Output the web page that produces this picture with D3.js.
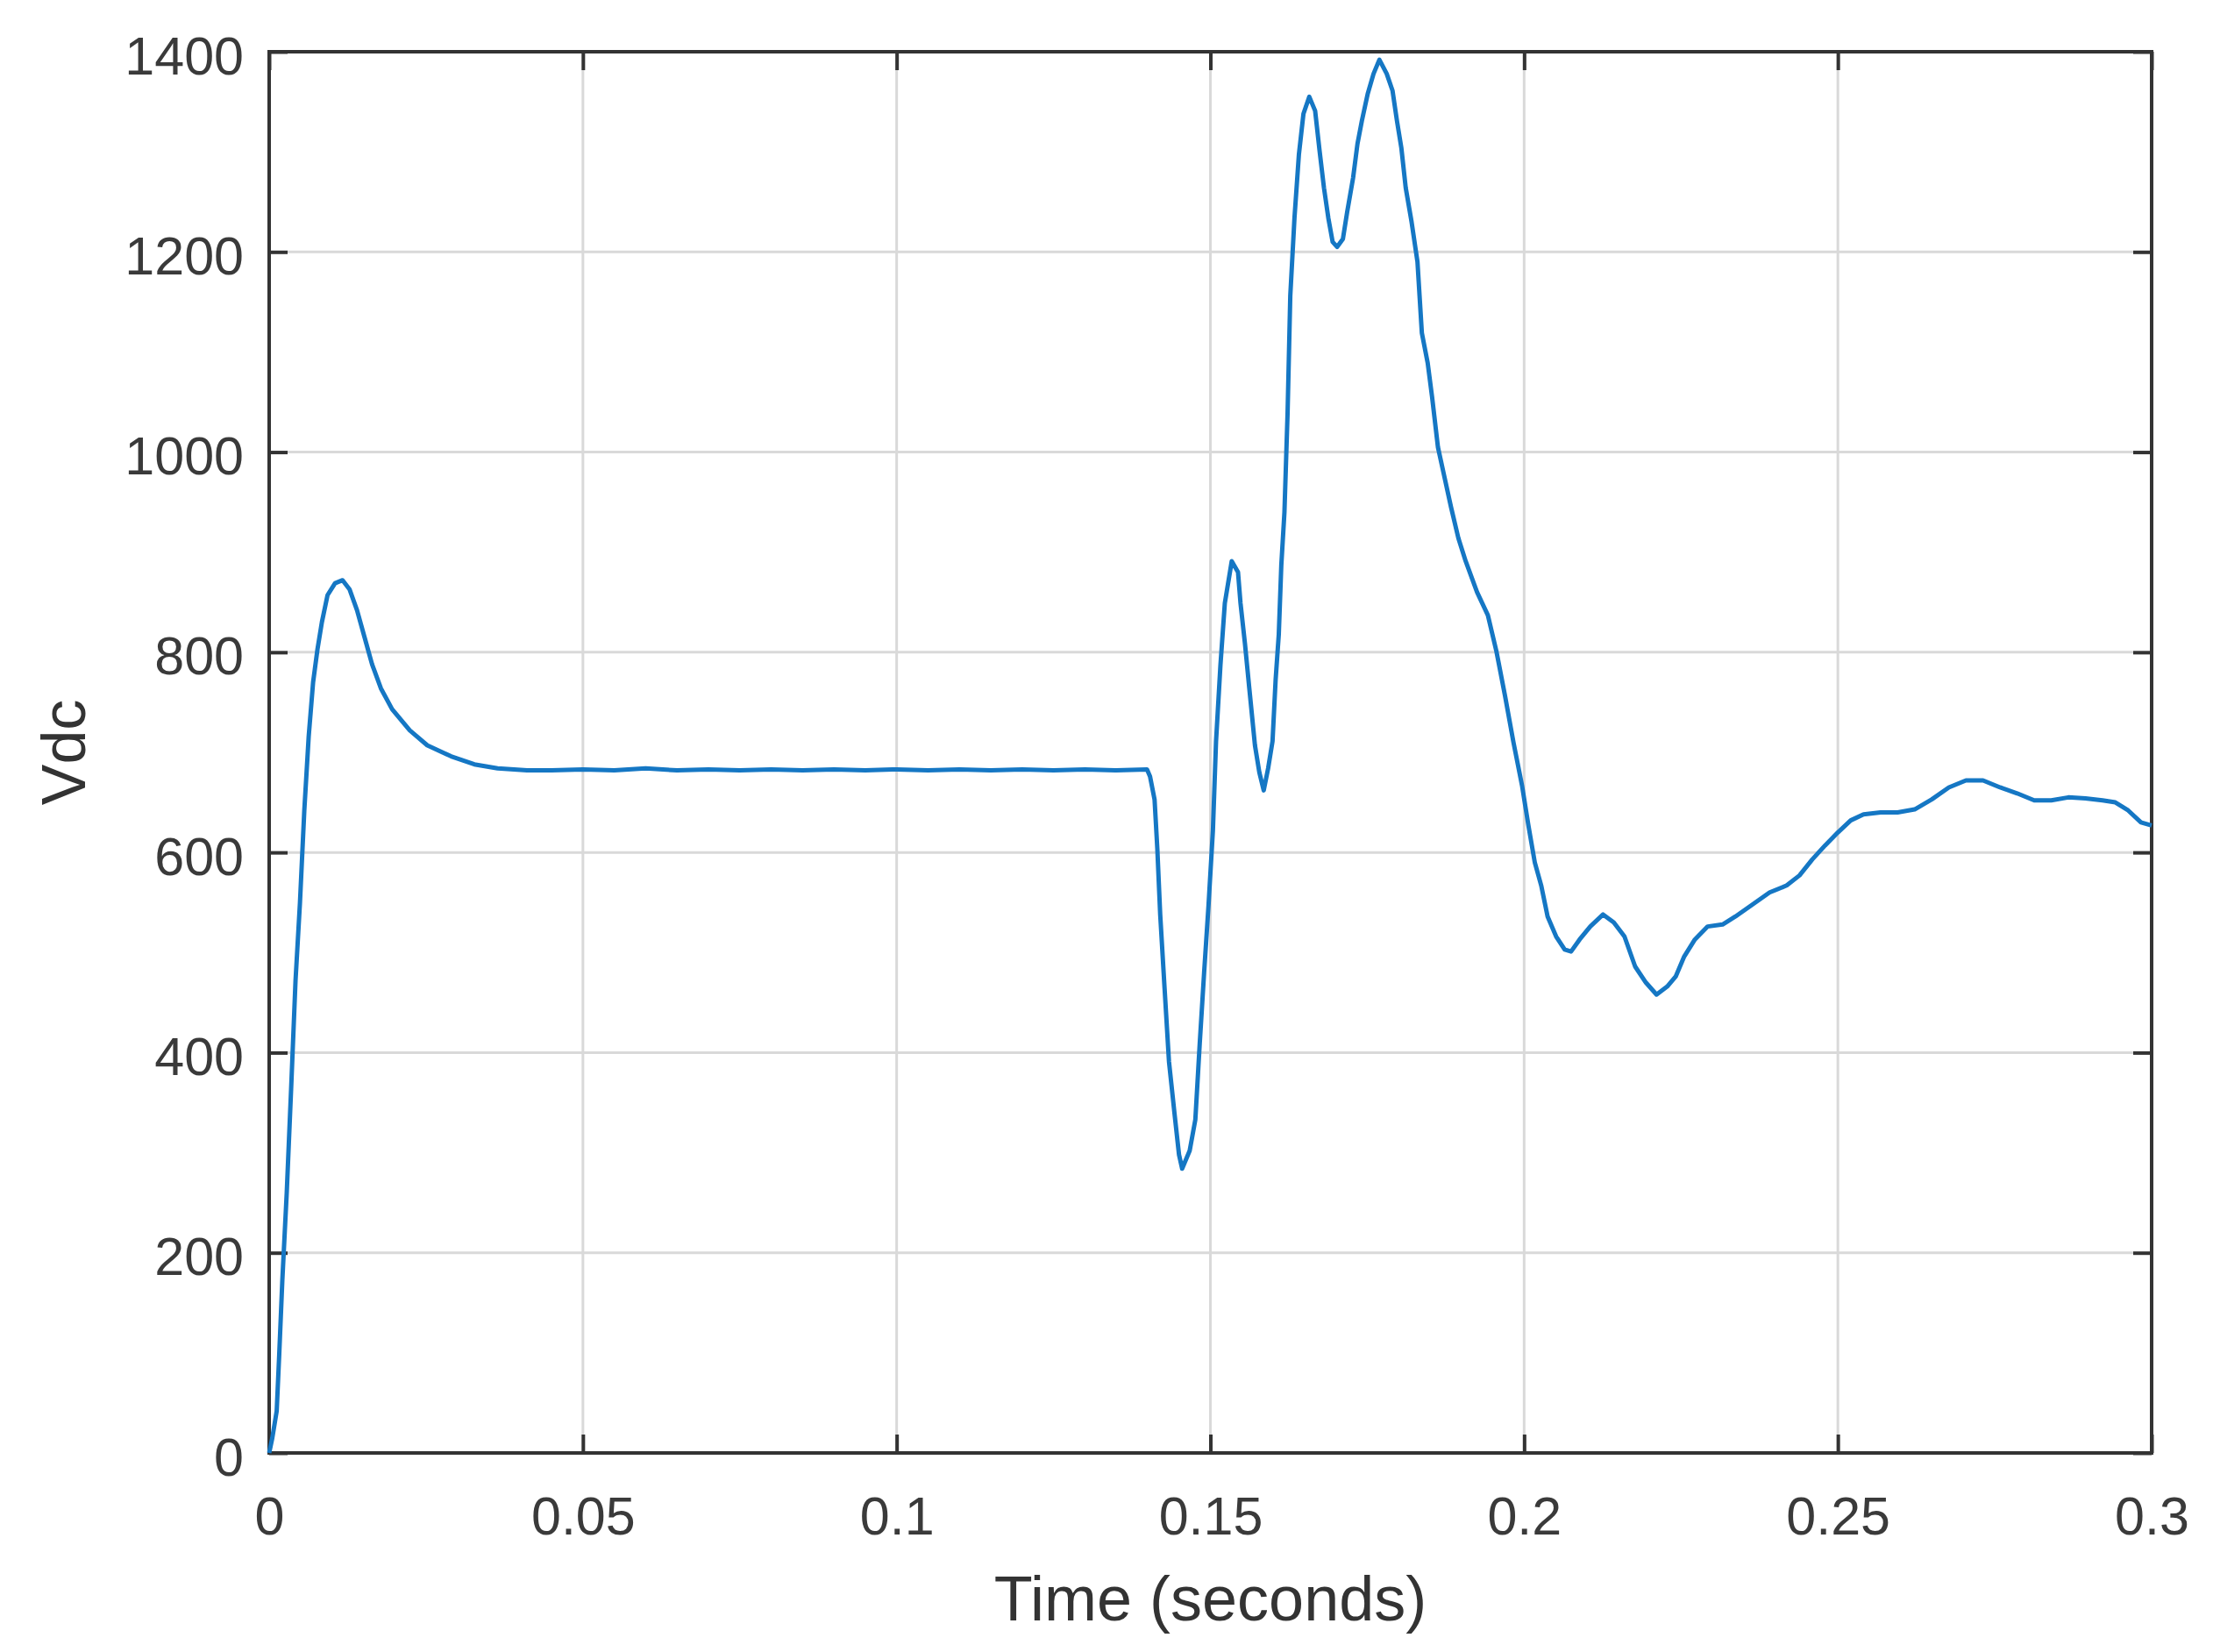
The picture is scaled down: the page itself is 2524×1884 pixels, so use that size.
<!DOCTYPE html>
<html>
<head>
<meta charset="utf-8">
<script src="https://cdn.jsdelivr.net/npm/d3@7"></script>
<style>
  html, body { margin: 0; padding: 0; background: #ffffff; }
  svg { display: block; }
  text { font-family: "Liberation Sans", Arial, Helvetica, sans-serif; }
</style>
</head>
<body>
<script>
// ---- Data ----
const timeValues = [
  0, 0.0005, 0.0012, 0.0016, 0.0021, 0.0028, 0.0035, 0.0042, 0.0049, 0.0056,
  0.0063, 0.0070, 0.0077, 0.0084, 0.0093, 0.0105, 0.0117, 0.0128, 0.0140, 0.0152,
  0.0164, 0.0178, 0.0196, 0.0224, 0.0252, 0.0290, 0.0327, 0.0364, 0.0411,
  0.045, 0.050, 0.055, 0.060, 0.065, 0.070, 0.075, 0.080, 0.085, 0.090,
  0.095, 0.100, 0.105, 0.110, 0.115, 0.120, 0.125, 0.130, 0.135, 0.1399,
  0.14038, 0.1411, 0.14154, 0.1420, 0.1427, 0.1434, 0.1443, 0.1450, 0.1455, 0.1467,
  0.1476, 0.1483, 0.1490, 0.1497, 0.1504, 0.1509, 0.1516, 0.1523, 0.1534, 0.1544,
  0.1548, 0.1555, 0.1562, 0.1571, 0.1578, 0.1585, 0.1592, 0.1599, 0.1604, 0.1609,
  0.1613, 0.1618, 0.1623, 0.16273, 0.1634, 0.1641, 0.16483, 0.16576, 0.16669, 0.1674,
  0.1681, 0.16879, 0.16948, 0.1702, 0.17112, 0.1718, 0.17274, 0.17344, 0.17414, 0.17507,
  0.1760, 0.17693, 0.1781, 0.17903, 0.17973, 0.18043, 0.18113, 0.18206, 0.1830, 0.1837,
  0.18463, 0.18533, 0.18626, 0.1872, 0.18835, 0.18952, 0.19068, 0.1925, 0.19422, 0.19558,
  0.19694, 0.1983, 0.19966, 0.20068, 0.2017, 0.20272, 0.20374, 0.2051, 0.20646, 0.20748,
  0.20884, 0.21054, 0.21258, 0.21429, 0.21599, 0.21769, 0.2194, 0.2211, 0.2228, 0.22415,
  0.22551, 0.22721, 0.22925, 0.23163, 0.23367, 0.2364, 0.23912, 0.24184, 0.24388, 0.24592,
  0.24796, 0.2500, 0.25204, 0.25408, 0.2568, 0.25952, 0.26224, 0.26497, 0.26769, 0.27041,
  0.27313, 0.27585, 0.27857, 0.28129, 0.28401, 0.28673, 0.28946, 0.29218, 0.29422, 0.29626,
  0.2983, 0.3000
];
const vdcValues = [
  0, 15, 42, 98, 173, 260, 364, 472, 549, 642,
  716, 770, 803, 830, 857, 869, 872, 863, 842, 815,
  788, 764, 743, 722, 707, 696, 688, 684, 682,
  682, 683, 682, 684, 682, 683, 682, 683, 682, 683,
  682, 683, 682, 683, 682, 683, 682, 683, 682, 683,
  676, 653, 604, 538, 464, 391, 338, 298, 284, 302,
  333, 409, 480, 547, 622, 711, 787, 849, 891, 880,
  849, 809, 764, 707, 680, 662, 684, 711, 773, 818,
  887, 940, 1039, 1156, 1234, 1297, 1338, 1355, 1341, 1301,
  1264, 1234, 1210, 1205, 1213, 1240, 1274, 1308, 1331, 1358,
  1378, 1392, 1378, 1361, 1331, 1304, 1264, 1230, 1190, 1119,
  1089, 1055, 1005, 978, 945, 914, 891, 860, 837, 801,
  757, 710, 667, 627, 590, 567, 536, 516, 503, 501,
  513, 526, 538, 530, 516, 486, 470, 458, 466, 476,
  496, 513, 526, 528, 536, 548, 560, 567, 577, 593,
  607, 620, 632, 638, 640, 640, 643, 653, 665, 672,
  672, 665, 659, 652, 652, 655, 654, 652, 650, 642,
  630, 627
];
const xTickValues = [0, 0.05, 0.1, 0.15, 0.2, 0.25, 0.3];
const xTickLabels = ["0", "0.05", "0.1", "0.15", "0.2", "0.25", "0.3"];
const yTickValues = [0, 200, 400, 600, 800, 1000, 1200, 1400];
const yTickLabels = ["0", "200", "400", "600", "800", "1000", "1200", "1400"];
const xLabel = "Time (seconds)";
const yLabel = "Vdc";

// ---- Layout ----
const W = 2524, H = 1884;
const L = 307, R = 2454, T = 59, B = 1657;
const tickLen = 21;
const axisColor = "#333333";
const gridColor = "#d9d9d9";
const lineColor = "#1577c4";

const svg = d3.select("body").append("svg")
  .attr("width", W).attr("height", H)
  .style("background", "#ffffff");

const x = d3.scaleLinear().domain([0, 0.3]).range([L, R]);
const y = d3.scaleLinear().domain([0, 1400]).range([B, T]);

// grid
const grid = svg.append("g");
grid.selectAll("line.gx").data(xTickValues.slice(1, -1)).enter().append("line")
  .attr("x1", d => x(d)).attr("x2", d => x(d)).attr("y1", T).attr("y2", B)
  .attr("stroke", gridColor).attr("stroke-width", 3);
grid.selectAll("line.gy").data(yTickValues.slice(1, -1)).enter().append("line")
  .attr("x1", L).attr("x2", R).attr("y1", d => y(d)).attr("y2", d => y(d))
  .attr("stroke", gridColor).attr("stroke-width", 3);

function styleAxis(g) {
  g.select(".domain").remove();
  g.selectAll(".tick line").attr("stroke", axisColor).attr("stroke-width", 4);
  g.selectAll(".tick text").attr("fill", "#3a3a3a").style("font-size", "61px")
    .style("font-family", '"Liberation Sans", Arial, sans-serif');
}

// bottom axis
svg.append("g").attr("transform", `translate(0,${B})`)
  .call(d3.axisBottom(x).tickValues(xTickValues).tickFormat((d, i) => xTickLabels[i])
    .tickSize(-tickLen).tickSizeOuter(0).tickPadding(50))
  .call(styleAxis);
// top axis (ticks only)
svg.append("g").attr("transform", `translate(0,${T})`)
  .call(d3.axisTop(x).tickValues(xTickValues).tickFormat("").tickSize(-tickLen).tickSizeOuter(0))
  .call(styleAxis);
// left axis
svg.append("g").attr("transform", `translate(${L},0)`)
  .call(d3.axisLeft(y).tickValues(yTickValues).tickFormat((d, i) => yTickLabels[i])
    .tickSize(-tickLen).tickSizeOuter(0).tickPadding(29))
  .call(styleAxis)
  .call(g => g.selectAll(".tick text").attr("dy", "0.41em"));
// right axis (ticks only)
svg.append("g").attr("transform", `translate(${R},0)`)
  .call(d3.axisRight(y).tickValues(yTickValues).tickFormat("").tickSize(-tickLen).tickSizeOuter(0))
  .call(styleAxis);

// box
svg.append("rect").attr("x", L).attr("y", T).attr("width", R - L).attr("height", B - T)
  .attr("fill", "none").attr("stroke", axisColor).attr("stroke-width", 4);

// data line
const pts = timeValues.map((t, i) => [t, vdcValues[i]]);
svg.append("path").datum(pts)
  .attr("fill", "none").attr("stroke", lineColor).attr("stroke-width", 5)
  .attr("stroke-linejoin", "round")
  .attr("d", d3.line().x(d => x(d[0])).y(d => y(d[1])));

// labels
svg.append("text").attr("x", (L + R) / 2).attr("y", 1848)
  .attr("text-anchor", "middle").attr("fill", "#333333")
  .style("font-size", "72px").text(xLabel);
svg.append("text").attr("transform", `translate(97,${(T + B) / 2}) rotate(-90)`)
  .attr("text-anchor", "middle").attr("fill", "#333333")
  .style("font-size", "70px").text(yLabel);
</script>
</body>
</html>
